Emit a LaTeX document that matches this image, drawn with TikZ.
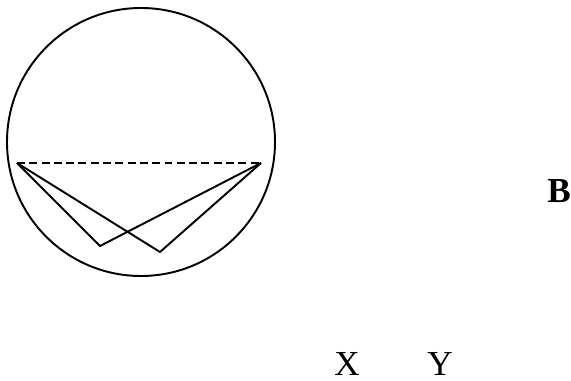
\documentclass[tikz,border=0pt]{standalone}
\usepackage{fontspec}
\setmainfont{Liberation Serif}
\usetikzlibrary{positioning}
\tikzset{
  edge/.style={line width=1.1pt, line join=miter},
  lbl/.style={font=\fontsize{20}{24}\selectfont, inner sep=0pt, anchor=base}
}
\begin{document}
\begin{tikzpicture}[x=0.02cm, y=-0.02cm]
\useasboundingbox (0,0) rectangle (571,381);
% circle
\draw[edge] (141,142) circle [radius=134];
% corner points
\coordinate (L) at (17,163);
\coordinate (R) at (261,163);
\coordinate (P) at (100,246);
\coordinate (Q) at (160,252);
\draw[edge, dash pattern=on 4.5pt off 2.5pt] (L) -- (R);
\draw[edge] (L) -- (P) -- (R);
\draw[edge] (L) -- (Q) -- (R);
% letters
\node[lbl] (B) at (559,203) {\textbf{B}};
\node[lbl] (X) at (347,376) {X};
\node[lbl] (Y) at (440,376) {Y};
\end{tikzpicture}
\end{document}
